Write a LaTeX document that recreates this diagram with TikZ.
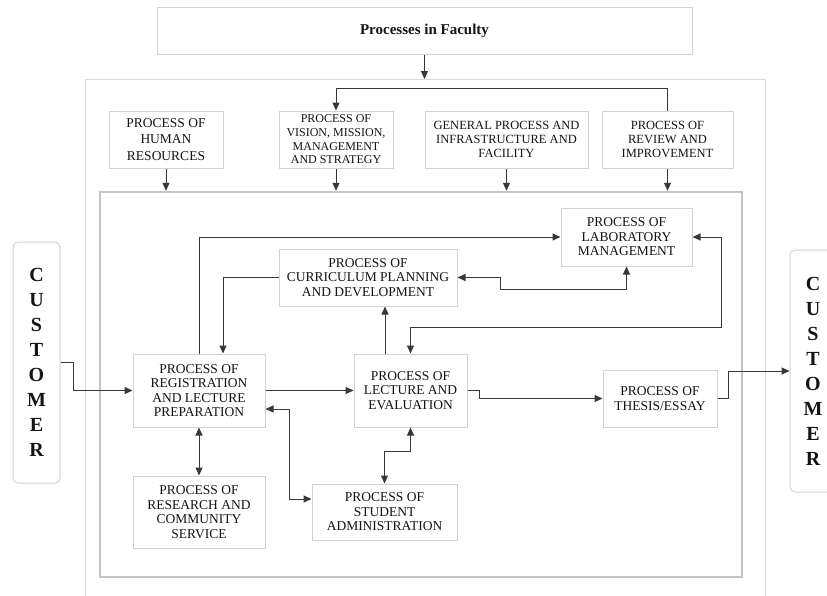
\documentclass[tikz,border=0pt]{standalone}
\usepackage{fontspec}
\setmainfont{Liberation Serif}
\usetikzlibrary{arrows.meta,calc}
\definecolor{boxline}{HTML}{D2D2D2}
\definecolor{outerline}{HTML}{D8DCE4}
\definecolor{innerline}{HTML}{C4C4C4}
\definecolor{lin}{HTML}{383838}
\definecolor{txt}{HTML}{141418}
\begin{document}
\begin{tikzpicture}[x=1pt,y=-1pt,
  box/.style={draw=boxline, line width=1pt, fill=white, inner sep=0pt, align=center, text=txt, font={\fontsize{13.5}{14.5}\selectfont}},
  custbox/.style={draw=boxline, line width=1pt, fill=white, rounded corners=5pt, inner sep=0pt, align=center, text=txt, font={\fontsize{20}{25}\selectfont\bfseries}},
  conn/.style={draw=lin, line width=1pt},
  arr/.style={conn, -{Triangle[length=8pt,width=7pt]}},
  arr2/.style={conn, {Triangle[length=8pt,width=7pt]}-{Triangle[length=8pt,width=7pt]}},
]
\clip (0,0) rectangle (827,595);
\fill[white] (0,0) rectangle (827,595);

% frames
\node[draw=outerline, line width=1pt, minimum width=680, minimum height=560, anchor=north west, inner sep=0pt] (outer) at (85,79) {};
\node[draw=innerline, line width=2.5pt, minimum width=642, minimum height=385, inner sep=0pt] (inner) at (421,384.5) {};

% title
\node[box, minimum width=535, minimum height=47, font={\fontsize{15}{17}\selectfont\bfseries}] (title) at (424.5,30.5) {Processes in Faculty};

% top row
\node[box, minimum width=114, minimum height=57, font={\fontsize{13.5}{16.5}\selectfont}] (hr) at (166,139.5) {PROCESS OF\\HUMAN\\RESOURCES};
\node[box, minimum width=114, minimum height=57, font={\fontsize{12}{13.7}\selectfont}] (vis) at (336,139.5) {PROCESS OF\\VISION, MISSION,\\MANAGEMENT\\AND STRATEGY};
\node[box, minimum width=163, minimum height=57, font={\fontsize{12.5}{13.7}\selectfont}] (gen) at (506.5,139.5) {GENERAL PROCESS AND\\INFRASTRUCTURE AND\\FACILITY};
\node[box, minimum width=131, minimum height=57, font={\fontsize{12.5}{13.7}\selectfont}] (rev) at (667.5,139.5) {PROCESS OF\\REVIEW AND\\IMPROVEMENT};

% inner nodes
\node[box, minimum width=131, minimum height=58] (lab) at (626.5,237) {PROCESS OF\\LABORATORY\\MANAGEMENT};
\node[box, minimum width=178, minimum height=57] (cur) at (368,277.5) {PROCESS OF\\CURRICULUM PLANNING\\AND DEVELOPMENT};
\node[box, minimum width=132, minimum height=73] (reg) at (199,390.5) {PROCESS OF\\REGISTRATION\\AND LECTURE\\PREPARATION};
\node[box, minimum width=113, minimum height=73] (lec) at (410.5,390.5) {PROCESS OF\\LECTURE AND\\EVALUATION};
\node[box, minimum width=114, minimum height=57] (the) at (660,398.5) {PROCESS OF\\THESIS/ESSAY};
\node[box, minimum width=132, minimum height=72] (res) at (199,512) {PROCESS OF\\RESEARCH AND\\COMMUNITY\\SERVICE};
\node[box, minimum width=145, minimum height=56] (stu) at (384.5,512) {PROCESS OF\\STUDENT\\ADMINISTRATION};

% customers
\node[custbox, minimum width=47, minimum height=241] (custL) at (36.5,362.5) {C\\U\\S\\T\\O\\M\\E\\R};
\node[custbox, minimum width=60, minimum height=242] (custR) at (820,371) {};
\node[font={\fontsize{20}{25}\selectfont\bfseries}, text=txt, align=center, inner sep=0pt] (custRtxt) at (813,371.5) {C\\U\\S\\T\\O\\M\\E\\R};

% top connectors
\draw[arr] (title.south) -- (title.south |- outer.north);
\draw[arr] (rev.north) -- ++(0,-22) -| (vis.north);
\draw[arr] (hr.south) -- (hr.south |- inner.north);
\draw[arr] (vis.south) -- (vis.south |- inner.north);
\draw[arr] (gen.south) -- (gen.south |- inner.north);
\draw[arr] (rev.south) -- (rev.south |- inner.north);

% inner connectors
\draw[arr] (custL.east) -- ++(13,0) |- (reg.west);
\draw[arr] (reg.east) -- (lec.west);
\draw[arr] (reg.north) |- (lab.west);
\draw[arr] (cur.west) -| ($(reg.north)+(24,0)$);
\draw[arr] ($(lec.north)+(-25.5,0)$) -- ($(cur.south)+(17,0)$);
\draw[arr2] (cur.east) -- ++(43,0) |- ($(lab.south)+(0,23)$) -- (lab.south);
\draw[arr2] (lab.east) -- ++(29,0) |- ($(lec.north)+(0,-26)$) -- (lec.north);
\draw[arr] (lec.east) -- ++(12,0) |- (the.west);
\draw[arr] (the.east) -- ++(11,0) |- (custR.west);
\draw[arr2] (reg.south) -- (res.north);
\draw[arr2] ($(reg.east)+(0,18.5)$) -| ($(stu.west)+(-22,-13)$) -- ($(stu.west)+(0,-13)$);
\draw[arr2] (lec.south) -- ++(0,24) -| (stu.north);
\end{tikzpicture}
\end{document}
